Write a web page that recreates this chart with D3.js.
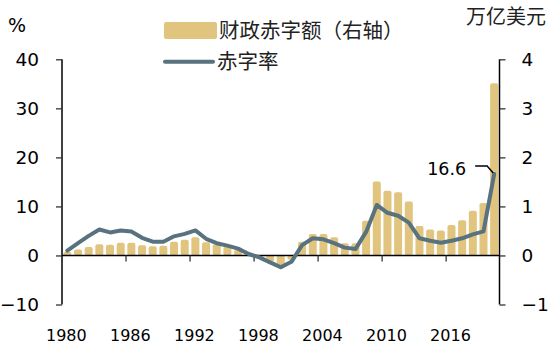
<!DOCTYPE html>
<html><head><meta charset="utf-8">
<script src="https://cdn.jsdelivr.net/npm/d3@7"></script>
<style>html,body{margin:0;padding:0;background:#fff;}svg{display:block;}</style>
</head><body>
<svg id="c" width="550" height="350"></svg>
<script>
const years = d3.range(1980, 2021);
const deficitAmount = [0.07,0.12,0.17,0.23,0.22,0.26,0.26,0.21,0.19,0.20,0.28,0.32,0.37,0.27,0.23,0.18,0.11,0.04,-0.06,-0.13,-0.26,-0.09,0.28,0.44,0.44,0.37,0.25,0.25,0.71,1.51,1.32,1.29,1.10,0.60,0.53,0.51,0.62,0.72,0.91,1.07,3.51];
const deficitRate = [1.0,2.5,4.0,5.3,4.7,5.1,4.9,3.6,2.8,2.8,3.9,4.4,5.1,3.4,2.5,2.0,1.4,0.3,-0.4,-1.4,-2.4,-1.3,2.1,3.5,3.3,2.5,1.6,1.3,4.8,10.3,8.7,8.1,6.7,3.5,3.0,2.6,3.0,3.5,4.3,4.9,16.6];
const leftTicks = [-10,0,10,20,30,40];
const rightTicks = [-1,0,1,2,3,4];
const yearTicks = [1980,1986,1992,1998,2004,2010,2016];
const legendLabels = ["财政赤字额（右轴）","赤字率"];
const leftUnit = "%", rightUnit = "万亿美元";
const note = "16.6";

const barColor = "#e1c47e", lineColor = "#58727f";
const numFont = "DejaVu Sans", cjkFont = "Noto Sans CJK SC";

const svg = d3.select("#c");
const x = d3.scaleBand().domain(years).range([62, 499.5]).paddingInner(0.25).paddingOuter(0.125);
const yL = d3.scaleLinear().domain([-10, 40]).range([304.5, 59.3]);
const yR = d3.scaleLinear().domain([-1, 4]).range([304.5, 59.3]);
const cx = d => x(d) + x.bandwidth() / 2;
const step = x.step();
const edge = d => x(d) - x.paddingInner() * step / 2;

// bars
svg.append("g").selectAll("rect").data(years).join("rect")
  .attr("x", d => x(d))
  .attr("width", x.bandwidth())
  .attr("y", (d, i) => yR(Math.max(0, deficitAmount[i])))
  .attr("height", (d, i) => Math.abs(yR(deficitAmount[i]) - yR(0)))
  .attr("rx", 2).attr("fill", barColor);

// left axis
const gl = svg.append("g").attr("transform", "translate(62,0)")
  .call(d3.axisLeft(yL).tickValues(leftTicks).tickSize(6).tickPadding(17).tickFormat(d3.format("d")));
gl.select(".domain").attr("d", `M0,${yL(40)}V${yL(-10)}`).attr("stroke", "#000").attr("stroke-width", 1.5);
gl.selectAll(".tick line").attr("stroke", "#333").attr("stroke-width", 1.3);
gl.selectAll("text").attr("font-family", numFont).attr("font-size", 18.5).attr("fill", "#000");

// right axis
const gr = svg.append("g").attr("transform", "translate(499.5,0)")
  .call(d3.axisRight(yR).tickValues(rightTicks).tickSize(6).tickPadding(16).tickFormat(d3.format("d")));
gr.select(".domain").attr("d", `M0,${yR(4)}V${yR(-1)}`).attr("stroke", "#000").attr("stroke-width", 1.5);
gr.selectAll(".tick line").attr("stroke", "#333").attr("stroke-width", 1.3);
gr.selectAll("text").attr("font-family", numFont).attr("font-size", 18.5).attr("fill", "#000");

// x axis at zero
const y0 = yL(0);
svg.append("line").attr("x1", 62).attr("x2", 499.5).attr("y1", y0).attr("y2", y0)
  .attr("stroke", "#000").attr("stroke-width", 1.5);
svg.append("g").selectAll("line").data(yearTicks.slice(1)).join("line")
  .attr("x1", d => edge(d)).attr("x2", d => edge(d))
  .attr("y1", y0).attr("y2", y0 + 6).attr("stroke", "#333").attr("stroke-width", 1.3);
svg.append("g").selectAll("text").data(yearTicks).join("text")
  .attr("x", d => cx(d) - 1).attr("y", 341)
  .attr("text-anchor", "middle").attr("font-family", numFont).attr("font-size", 16).attr("fill", "#000")
  .text(d => d);

// line
svg.append("path").datum(years)
  .attr("d", d3.line().x(d => cx(d)).y((d, i) => yL(deficitRate[i])))
  .attr("fill", "none").attr("stroke", lineColor).attr("stroke-width", 4)
  .attr("stroke-linejoin", "round").attr("stroke-linecap", "round");

// annotation
const lx = cx(2020) - 1, ly = yL(deficitRate[40]);
svg.append("path").attr("d", `M${lx - 18},${ly - 8}H${lx - 6}L${lx},${ly - 1}`)
  .attr("fill", "none").attr("stroke", "#000").attr("stroke-width", 1.5);
svg.append("text").attr("x", lx - 27).attr("y", ly + 1).attr("text-anchor", "end")
  .attr("font-family", numFont).attr("font-size", 17.5).attr("fill", "#000").text(note);

// units
svg.append("text").attr("x", 8).attr("y", 32).attr("font-family", numFont).attr("font-size", 19).attr("fill", "#000").text(leftUnit);
svg.append("text").attr("x", 466).attr("y", 24).attr("font-family", cjkFont).attr("font-size", 20).attr("fill", "#222").text(rightUnit);

// legend
svg.append("rect").attr("x", 164).attr("y", 22).attr("width", 53).attr("height", 17).attr("rx", 2).attr("fill", barColor);
svg.append("text").attr("x", 219).attr("y", 37.5).attr("font-family", cjkFont).attr("font-size", 20.5).attr("fill", "#222").text(legendLabels[0]);
svg.append("line").attr("x1", 165).attr("x2", 213).attr("y1", 61.7).attr("y2", 61.7)
  .attr("stroke", lineColor).attr("stroke-width", 4).attr("stroke-linecap", "round");
svg.append("text").attr("x", 217).attr("y", 69).attr("font-family", cjkFont).attr("font-size", 20.5).attr("fill", "#222").text(legendLabels[1]);
</script>
</body></html>
